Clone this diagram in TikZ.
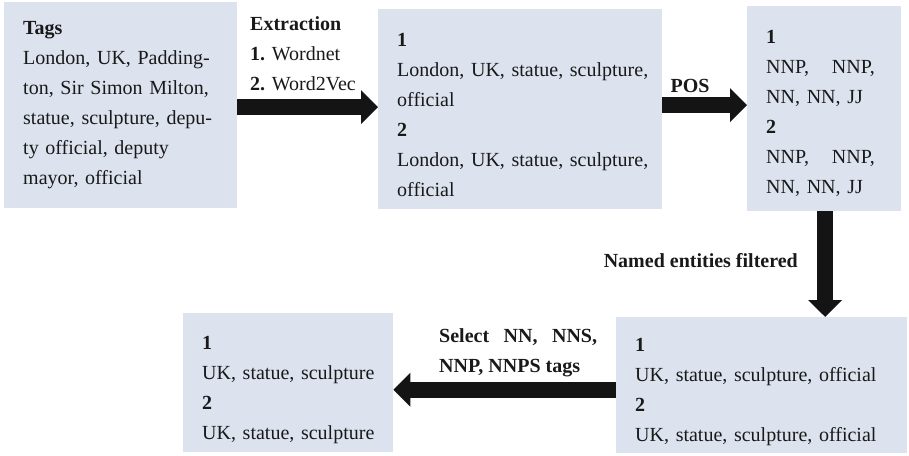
\documentclass[tikz,border=0pt]{standalone}
\usepackage{fontspec}
\setmainfont{Liberation Serif}
\usetikzlibrary{arrows.meta,calc}
\definecolor{boxfill}{RGB}{220,227,238}
\definecolor{arrowc}{RGB}{20,20,20}
\newcommand{\oneline}[1]{\mbox{#1}}
\newcommand{\topgap}[1]{\rule{0pt}{#1}}
\begin{document}
\begin{tikzpicture}[x=1pt,y=-1pt,
  box/.style={rectangle, fill=boxfill, anchor=north west, inner xsep=19pt, inner ysep=0pt,
    align=left, font=\fontsize{20}{30}\selectfont, text=black!90},
  lbl/.style={inner sep=0pt, align=left, font=\fontsize{20}{30}\selectfont, text=black!90},
  bigarrow/.style={draw=arrowc, line width=16pt, -{Triangle[length=17pt,width=33pt]}}]
\useasboundingbox (0,0) rectangle (909,455);

\node[box, minimum width=233pt, minimum height=206pt, text width=195pt] (b1) at (4,2)
  {\oneline{\textbf{Tags}}\\\oneline{London, UK, Padding-}\\\oneline{ton, Sir Simon Milton,}\\\oneline{statue, sculpture, depu-}\\\oneline{ty official, deputy}\\\oneline{mayor, official}};
\node[box, minimum width=284pt, minimum height=200pt, text width=246pt] (b2) at (378,9)
  {\topgap{25pt}\textbf{1}\\\oneline{London, UK, statue, sculpture,}\\official\\\textbf{2}\\\oneline{London, UK, statue, sculpture,}\\official};
\node[box, minimum width=154pt, minimum height=205pt, text width=116pt] (b3) at (747,6)
  {\topgap{23.5pt}\textbf{1}\\\oneline{NNP,\hspace{23pt}NNP,}\\\oneline{NN, NN, JJ}\\\textbf{2}\\\oneline{NNP,\hspace{23pt}NNP,}\\\oneline{NN, NN, JJ}};
\node[box, minimum width=291pt, minimum height=136pt, text width=253pt] (b4) at (616,317)
  {\topgap{27.5pt}\textbf{1}\\\oneline{UK, statue, sculpture, official}\\\textbf{2}\\\oneline{UK, statue, sculpture, official}};
\node[box, minimum width=210pt, minimum height=139pt, text width=172pt] (b5) at (183,313)
  {\topgap{27.5pt}\textbf{1}\\\oneline{UK, statue, sculpture}\\\textbf{2}\\\oneline{UK, statue, sculpture}};

\node[lbl, anchor=north west] (l1) at (250,16)
  {\textbf{Extraction}\\\textbf{1.} Wordnet\\\textbf{2.} Word2Vec};
\node[lbl, anchor=base] (l2) at (690,92) {\textbf{POS}};
\node[lbl, anchor=base east] (l3) at (798,267) {\textbf{Named entities filtered}};
\node[lbl, anchor=north west] (l4) at (439,328)
  {\textbf{Select\hspace{14.5pt}NN,\hspace{14.5pt}NNS,}\\\textbf{NNP, NNPS tags}};

\draw[bigarrow] ($(b1.east)+(0,2)$) -- ($(b1.east -| b2.west)+(0,2)$);
\draw[bigarrow] ($(b2.east)+(0,-4)$) -- ($(b2.east -| b3.west)+(0,-4)$);
\draw[bigarrow] ($(b3.south)+(1,0)$) -- ($(b3.south |- b4.north)+(1,0)$);
\draw[bigarrow] ($(b4.west)+(0,4.5)$) -- ($(b4.west -| b5.east)+(0,4.5)$);
\end{tikzpicture}
\end{document}
